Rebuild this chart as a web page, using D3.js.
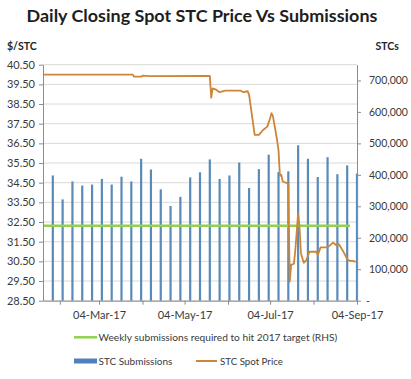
<!DOCTYPE html>
<html><head><meta charset="utf-8">
<script src="https://cdn.jsdelivr.net/npm/d3@7"></script>
<style>body{margin:0;background:#fff}svg{display:block}text{font-family:Lato,"Liberation Sans",sans-serif}</style>
</head><body><svg id="c" width="411" height="379"></svg>
<script>
// ---- data ----
const weekDates = ["2017-01-30","2017-02-06","2017-02-13","2017-02-20","2017-02-27","2017-03-06","2017-03-13","2017-03-20","2017-03-27","2017-04-03","2017-04-10","2017-04-17","2017-04-24","2017-05-01","2017-05-08","2017-05-15","2017-05-22","2017-05-29","2017-06-05","2017-06-12","2017-06-19","2017-06-26","2017-07-03","2017-07-10","2017-07-17","2017-07-24","2017-07-31","2017-08-07","2017-08-14","2017-08-21","2017-08-28","2017-09-04"];
const submissions = [398000,322000,379000,366000,369000,387000,369000,394000,379000,451000,417000,354000,301000,330000,392000,408000,449000,387000,398000,439000,358000,418000,464000,409000,411000,494000,451000,393000,456000,402000,430000,404000];
const priceDates = ["2017-01-23","2017-03-28","2017-03-29","2017-04-03","2017-04-04","2017-04-09","2017-05-22","2017-05-23","2017-05-24","2017-05-26","2017-05-29","2017-06-02","2017-06-13","2017-06-15","2017-06-18","2017-06-19","2017-06-23","2017-06-26","2017-06-29","2017-07-02","2017-07-04","2017-07-05","2017-07-06","2017-07-09","2017-07-10","2017-07-11","2017-07-12","2017-07-13","2017-07-17","2017-07-18","2017-07-19","2017-07-21","2017-07-22","2017-07-24","2017-07-25","2017-07-26","2017-07-28","2017-07-30","2017-08-01","2017-08-06","2017-08-07","2017-08-09","2017-08-14","2017-08-18","2017-08-20","2017-08-22","2017-08-25","2017-08-28","2017-08-30","2017-09-01","2017-09-03"];
const priceValues = [40.00,40.00,39.89,39.89,39.94,39.92,39.93,38.82,39.30,39.25,39.10,39.18,39.18,39.10,39.15,38.98,36.93,36.93,37.18,37.35,37.78,38.03,37.90,36.67,36.16,34.85,34.90,34.56,34.45,29.47,30.32,30.38,31.08,32.94,32.26,30.91,30.43,30.57,30.99,30.99,30.82,31.21,31.21,31.45,31.33,31.38,31.03,30.61,30.52,30.52,30.48];
const targetDates = ["2017-01-23","2017-08-30"];
const targetValues = [238000,238000];
const leftTicks = [28.5,29.5,30.5,31.5,32.5,33.5,34.5,35.5,36.5,37.5,38.5,39.5,40.5];
const rightTicks = [0,100000,200000,300000,400000,500000,600000,700000];
const monthTickDates = ["2017-02-04","2017-03-04","2017-04-04","2017-05-04","2017-06-04","2017-07-04","2017-08-04","2017-09-04"];
const labelDates = ["2017-03-04","2017-05-04","2017-07-04","2017-09-04"];
const domainDates = ["2017-01-23","2017-09-04"];

// ---- chart ----
const parse = d3.timeParse("%Y-%m-%d");
const fmt = d3.timeFormat("%d-%b-%y");
const svg = d3.select("#c");
const L = 43, R = 357, T = 64.7, B = 300.7;
const x = d3.scaleTime().domain(domainDates.map(parse)).range([L, R]);
const yL = d3.scaleLinear().domain([28.5, 40.5]).range([B, T]);
const yR = d3.scaleLinear().domain([0, 750000]).range([B, T]);

function fit(sel, w) {
  const n = sel.node(); const cur = parseFloat(sel.attr("font-size"));
  const m = n.getComputedTextLength(); if (m > 0) sel.attr("font-size", cur * w / m);
}

const title = svg.append("text").attr("x", 202).attr("y", 21.5).attr("text-anchor", "middle")
  .attr("font-size", 17).attr("font-weight", "bold").attr("fill", "#1e1e1e")
  .text("Daily Closing Spot STC Price Vs Submissions");
fit(title, 351);

svg.append("text").attr("x", 7).attr("y", 49.5).attr("font-size", 10.5).attr("font-weight", "bold").attr("fill", "#262626").text("$/STC");
svg.append("text").attr("x", 375.5).attr("y", 49.5).attr("font-size", 10.5).attr("font-weight", "bold").attr("fill", "#262626").text("STCs");

// gridlines
svg.append("g").selectAll("line").data(leftTicks).join("line")
  .attr("x1", L).attr("x2", R).attr("y1", d => yL(d)).attr("y2", d => yL(d))
  .attr("stroke", "#d9d9d9").attr("stroke-width", 1);

// bars
const bars = weekDates.map((d, i) => ({ date: parse(d), v: submissions[i] }));
svg.append("g").selectAll("rect").data(bars).join("rect")
  .attr("x", d => x(d.date) - 1.1).attr("width", 2.2)
  .attr("y", d => yR(d.v)).attr("height", d => yR(0) - yR(d.v))
  .attr("fill", "#5a8bb8");

// target line
const tgt = targetDates.map((d, i) => ({ date: parse(d), v: targetValues[i] }));
svg.append("path").datum(tgt)
  .attr("d", d3.line().x(d => x(d.date)).y(d => yR(d.v)))
  .attr("fill", "none").attr("stroke", "#92d050").attr("stroke-width", 2.5);

// price line
const price = priceDates.map((d, i) => ({ date: parse(d), v: priceValues[i] }));
svg.append("path").datum(price)
  .attr("d", d3.line().x(d => x(d.date)).y(d => yL(d.v)))
  .attr("fill", "none").attr("stroke", "#cd8537").attr("stroke-width", 1.8).attr("stroke-linejoin", "round");

// axes
function styleAxis(g) {
  g.select(".domain").attr("stroke", "#8c8c8c");
  g.selectAll(".tick line").attr("stroke", "#8c8c8c");
  g.selectAll(".tick text").attr("fill", "#3a3a3a").attr("font-size", 11).attr("font-family", "Lato, 'Liberation Sans', sans-serif");
}
svg.append("g").attr("transform", `translate(${L},0)`)
  .call(d3.axisLeft(yL).tickValues(leftTicks).tickFormat(d3.format(".2f")).tickSize(4).tickSizeOuter(0).tickPadding(4))
  .call(styleAxis);
const ra = svg.append("g").attr("transform", `translate(${R},0)`)
  .call(d3.axisRight(yR).tickValues(rightTicks).tickFormat(d => d === 0 ? "-" : d3.format(",")(d)).tickSize(4).tickSizeOuter(0).tickPadding(8))
  .call(styleAxis);
ra.selectAll(".tick text").attr("font-size", 10.5).filter(d => d === 0).attr("x", 9);
const labelSet = new Set(labelDates);
svg.append("g").attr("transform", `translate(0,${B})`)
  .call(d3.axisBottom(x).tickValues(monthTickDates.map(parse))
    .tickFormat(d => labelSet.has(d3.timeFormat("%Y-%m-%d")(d)) ? fmt(d) : "")
    .tickSize(4).tickSizeOuter(0).tickPadding(7))
  .call(styleAxis);

// legend
const lg = svg.append("g");
lg.append("line").attr("x1", 74).attr("x2", 97).attr("y1", 337.3).attr("y2", 337.3).attr("stroke", "#92d050").attr("stroke-width", 2.5);
const t1 = lg.append("text").attr("x", 98.5).attr("y", 341).attr("font-size", 11).attr("fill", "#3a3a3a")
  .text("Weekly submissions required to hit 2017 target (RHS)");
fit(t1, 239);
lg.append("rect").attr("x", 74).attr("y", 358.5).attr("width", 23).attr("height", 5).attr("fill", "#4f81bd");
const t2 = lg.append("text").attr("x", 98.5).attr("y", 365).attr("font-size", 11).attr("fill", "#3a3a3a").text("STC Submissions");
fit(t2, 74);
lg.append("line").attr("x1", 196).attr("x2", 217).attr("y1", 361).attr("y2", 361).attr("stroke", "#cd8537").attr("stroke-width", 2);
const t3 = lg.append("text").attr("x", 220).attr("y", 365).attr("font-size", 11).attr("fill", "#3a3a3a").text("STC Spot Price");
fit(t3, 63);
</script></body></html>
